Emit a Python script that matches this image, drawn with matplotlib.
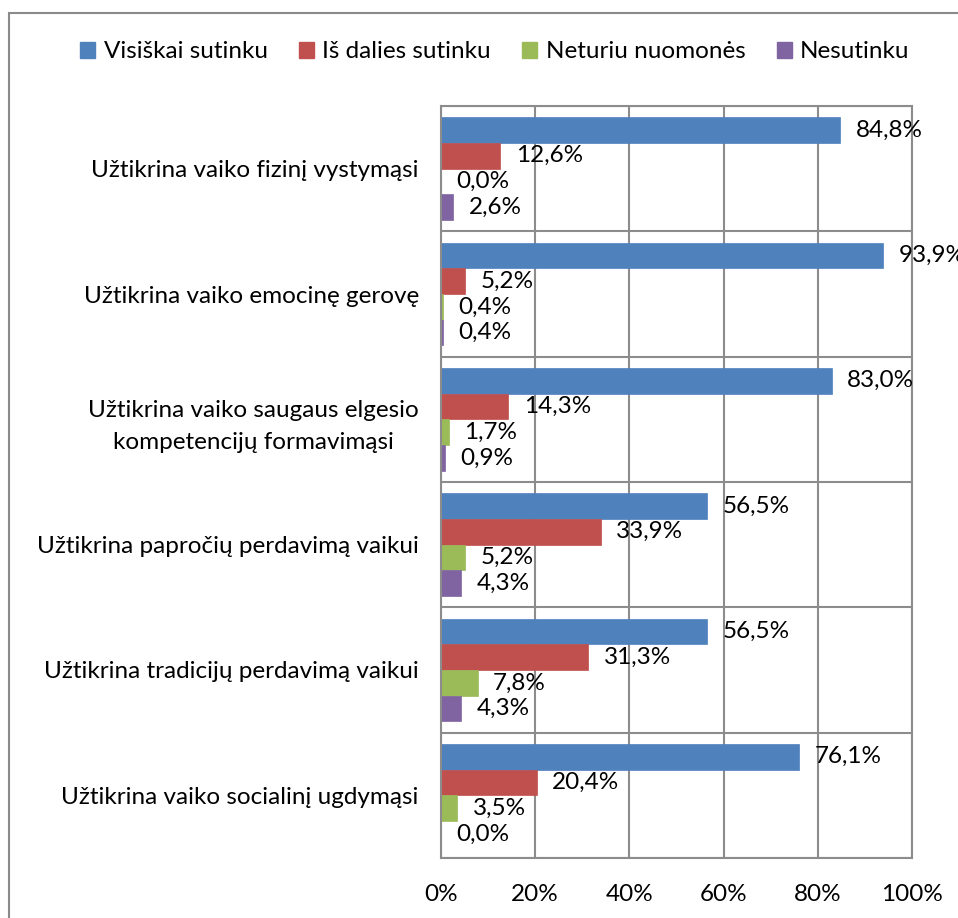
import matplotlib
matplotlib.use("Agg")
import matplotlib.pyplot as plt
import numpy as np
from matplotlib.patches import Rectangle, Patch

plt.rcParams['font.family'] = ['Lato', 'DejaVu Sans']

categories = [
    "Užtikrina vaiko fizinį vystymąsi",
    "Užtikrina vaiko emocinę gerovę",
    "Užtikrina vaiko saugaus elgesio\nkompetencijų formavimąsi",
    "Užtikrina papročių perdavimą vaikui",
    "Užtikrina tradicijų perdavimą vaikui",
    "Užtikrina vaiko socialinį ugdymąsi",
]
series_names = ["Visiškai sutinku", "Iš dalies sutinku", "Neturiu nuomonės", "Nesutinku"]
visiskai = [84.8, 93.9, 83.0, 56.5, 56.5, 76.1]
is_dalies = [12.6, 5.2, 14.3, 33.9, 31.3, 20.4]
neturiu = [0.0, 0.4, 1.7, 5.2, 7.8, 3.5]
nesutinku = [2.6, 0.4, 0.9, 4.3, 4.3, 0.0]
xticks = [0, 20, 40, 60, 80, 100]
colors = ["#4F81BD", "#C0504D", "#9BBB59", "#8064A2"]

FS = 17.5
W, H = 958, 918
fig = plt.figure(figsize=(W / 100, H / 100), dpi=100)
# outer chart border
fig.patches.append(Rectangle((9 / W, -0.1), 1.2, 1 - 13 / H + 0.1, transform=fig.transFigure,
                             fill=False, edgecolor="#8a8a8a", linewidth=1.5))

ax = fig.add_axes([441 / W, 1 - 858 / H, (912 - 441) / W, (858 - 106) / H])

data = [visiskai, is_dalies, neturiu, nesutinku]
n = len(categories)
y = np.arange(n)
bh = 0.205
for k, (vals, c) in enumerate(zip(data, colors)):
    pos = y - 1.5 * bh + k * bh
    ax.barh(pos, vals, height=bh, color=c, edgecolor=c, linewidth=0.5)
    for p, v in zip(pos, vals):
        ax.annotate(f"{v:.1f}%".replace(".", ","), (v, p), xytext=(11, 0),
                    textcoords="offset points", ha="left", va="center",
                    fontsize=FS, color="black", annotation_clip=False)

ax.set_xlim(0, 100)
ax.set_ylim(n - 0.5, -0.5)
ax.set_xticks(xticks)
ax.set_xticklabels([f"{t}%" for t in xticks], fontsize=FS)
ax.set_yticks(y)
ax.set_yticklabels(categories, fontsize=FS)
for lab in ax.get_yticklabels():
    lab.set_multialignment("center")
    lab.set_linespacing(1.6)
ax.set_yticks(np.arange(n + 1) - 0.5, minor=True)
ax.tick_params(axis="both", which="both", length=0)
ax.tick_params(axis="y", pad=16)
ax.tick_params(axis="x", pad=19)
ax.grid(axis="x", which="major", color="#8c8c8c", linewidth=1.5)
ax.grid(axis="y", which="minor", color="#8c8c8c", linewidth=1.5)
ax.set_axisbelow(True)
for s in ax.spines.values():
    s.set_color("#8c8c8c")
    s.set_linewidth(1.5)

handles = [Patch(facecolor=c, edgecolor=c) for c in colors]
fig.legend(handles, series_names, loc="center", bbox_to_anchor=(495 / W, 1 - 52 / H),
           ncol=4, frameon=False, fontsize=FS, handlelength=0.6, handleheight=0.6,
           handletextpad=0.35, columnspacing=1.3, borderaxespad=0)

fig.savefig("out.png", dpi=100)
